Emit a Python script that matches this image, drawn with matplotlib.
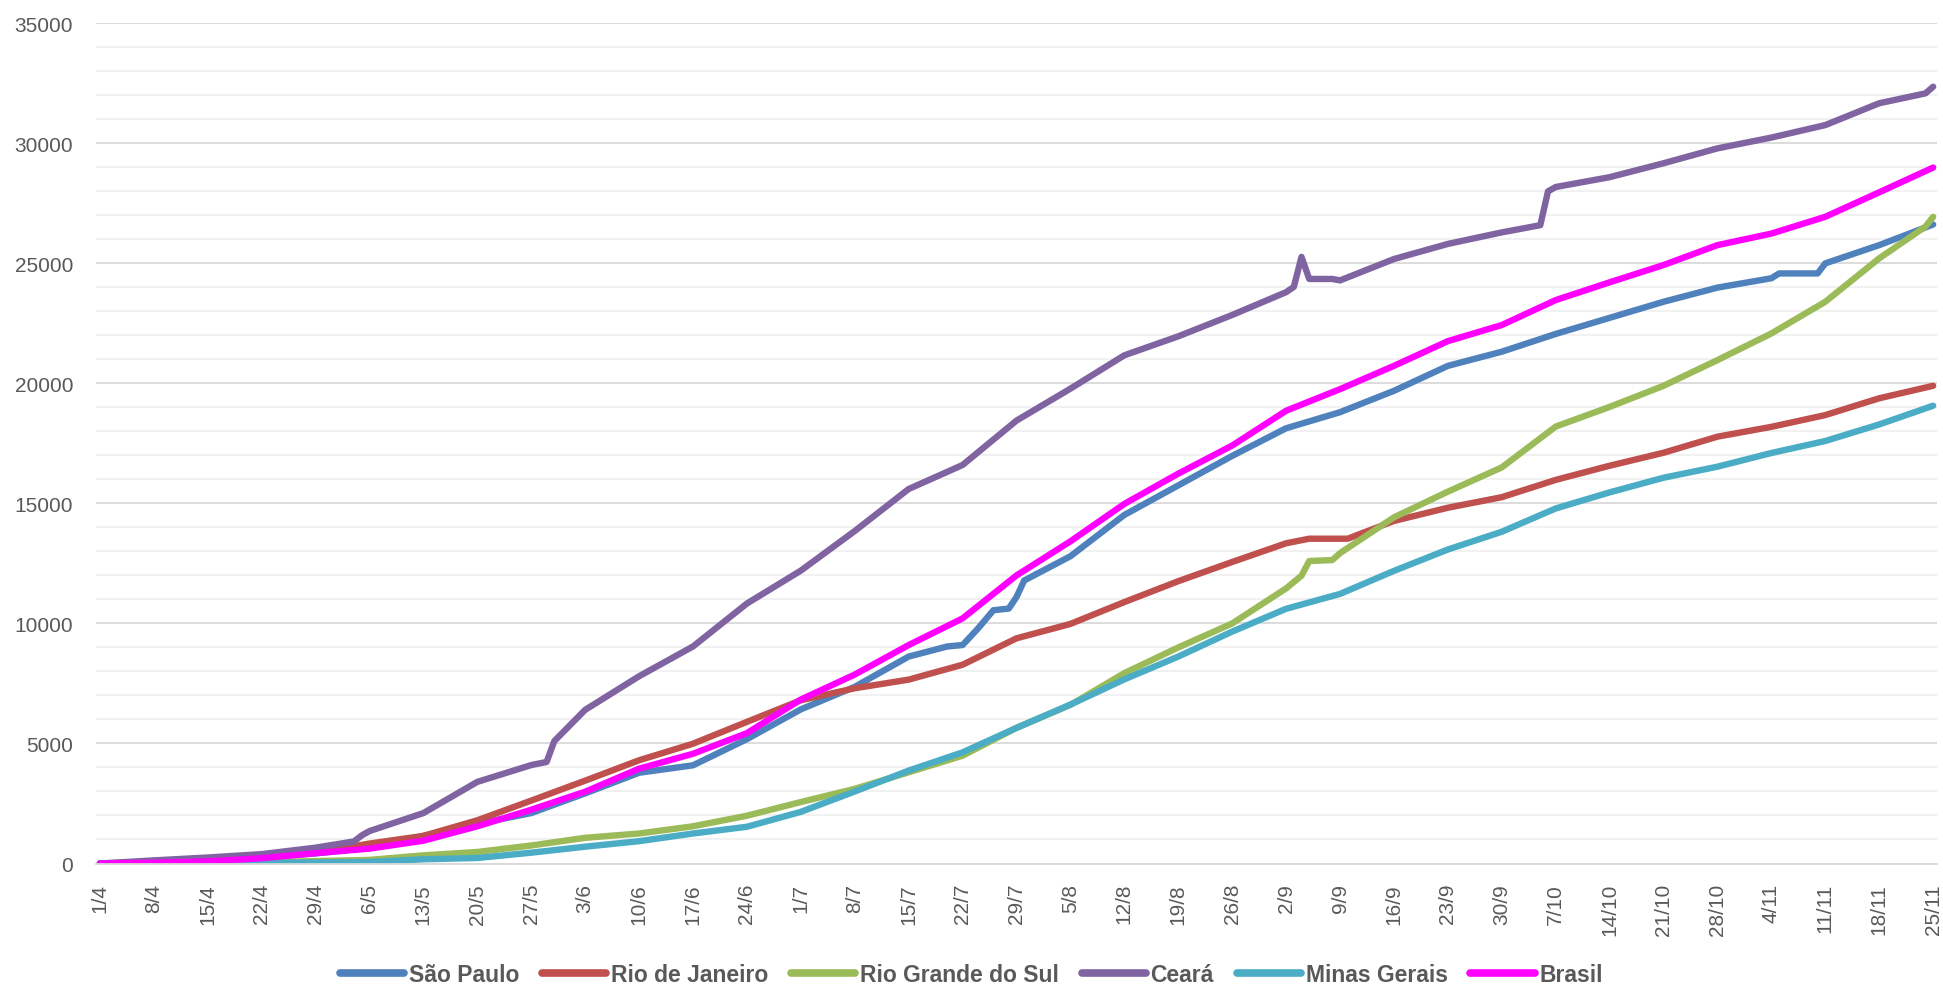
import matplotlib
matplotlib.use('Agg')
import matplotlib.pyplot as plt
from matplotlib.ticker import MultipleLocator

# Cumulative values per state, read weekly (day 0 = 1/4) plus a few extra points at jumps
WEEK_DAYS = [0, 7, 14, 21, 28, 35, 42, 49, 56, 63, 70, 77, 84, 91, 98, 105, 112,
             119, 126, 133, 140, 147, 154, 161, 168, 175, 182, 189, 196, 203,
             210, 217, 224, 231, 238]

TICK_LABELS = ['1/4', '8/4', '15/4', '22/4', '29/4', '6/5', '13/5', '20/5', '27/5',
               '3/6', '10/6', '17/6', '24/6', '1/7', '8/7', '15/7', '22/7', '29/7',
               '5/8', '12/8', '19/8', '26/8', '2/9', '9/9', '16/9', '23/9', '30/9',
               '7/10', '14/10', '21/10', '28/10', '4/11', '11/11', '18/11', '25/11']

sao_paulo = [0, 50, 120, 250, 420, 650, 1150, 1650, 2100, 2920, 3780, 4090, 5180,
             6420, 7360, 8620, 9100, 11100, 12800, 14520, 15750, 16980, 18130,
             18800, 19690, 20730, 21320, 22060, 22730, 23400, 23990, 24380, 25000,
             25760, 26620]
rio_janeiro = [0, 60, 120, 250, 450, 830, 1150, 1800, 2620, 3450, 4300, 4990, 5900,
               6800, 7300, 7660, 8280, 9380, 9980, 10890, 11760, 12560, 13340,
               13530, 14270, 14820, 15260, 15980, 16570, 17110, 17780, 18190, 18680,
               19380, 19900]
rio_grande_sul = [0, 10, 30, 50, 100, 150, 340, 480, 750, 1070, 1250, 1550, 1990,
                  2560, 3110, 3800, 4490, 5650, 6610, 7930, 9000, 10000, 11460,
                  12930, 14420, 15490, 16500, 18200, 19020, 19900, 20970, 22080,
                  23400, 25210, 26940]
ceara = [0, 130, 250, 390, 660, 1350, 2100, 3400, 4100, 6400, 7800, 9040, 10830,
         12200, 13850, 15600, 16600, 18450, 19780, 21170, 21960, 22850, 23800,
         24290, 25180, 25810, 26290, 28180, 28590, 29170, 29790, 30240, 30760,
         31670, 32360]
minas_gerais = [0, 10, 20, 30, 40, 60, 175, 230, 450, 700, 930, 1250, 1530, 2150,
                3000, 3870, 4630, 5650, 6620, 7670, 8620, 9660, 10610, 11230, 12190,
                13080, 13820, 14790, 15460, 16070, 16530, 17100, 17600, 18290, 19070]
brasil = [0, 30, 90, 220, 430, 620, 950, 1550, 2240, 2990, 3950, 4570, 5430, 6830,
          7870, 9100, 10210, 12000, 13420, 14980, 16240, 17410, 18860, 19760, 20730,
          21760, 22430, 23470, 24210, 24930, 25760, 26240, 26940, 27960, 28990]

# extra (day, value) readings where a series jumps or stalls
sp_extra = [(110, 9040), (114, 9790), (116, 10550), (118, 10620), (120, 11790),
            (218, 24580), (223, 24580)]
rj_extra = [(157, 13530), (162, 13530)]
rs_extra = [(156, 11990), (157, 12600), (160, 12640), (237, 26530)]
ce_extra = [(33, 920), (34, 1170), (58, 4230), (59, 5100), (155, 24020),
            (156, 25270), (157, 24350), (160, 24350), (187, 26590), (188, 28000),
            (237, 32080)]

SERIES = [
    ('São Paulo', sao_paulo, sp_extra, '#4F81BD'),
    ('Rio de Janeiro', rio_janeiro, rj_extra, '#C0504D'),
    ('Rio Grande do Sul', rio_grande_sul, rs_extra, '#9BBB59'),
    ('Ceará', ceara, ce_extra, '#8064A2'),
    ('Minas Gerais', minas_gerais, [], '#4BACC6'),
    ('Brasil', brasil, [], '#FF00FF'),
]

plt.rcParams['font.family'] = ['Liberation Sans', 'DejaVu Sans']

fig = plt.figure(figsize=(19.43, 9.87), dpi=100)
ax = fig.add_axes([96 / 1943, 1 - 864.5 / 987, (1937 - 96) / 1943, (864.5 - 24.3) / 987])

for name, values, extra, color in SERIES:
    pts = sorted(list(zip(WEEK_DAYS, values)) + extra)
    xs = [p[0] for p in pts]
    ys = [p[1] for p in pts]
    ax.plot(xs, ys, color=color, lw=4.6, label=name, solid_joinstyle='round',
            solid_capstyle='round')

ax.set_xlim(-0.5, 238.5)
ax.set_ylim(0, 35000)
ax.set_xticks(WEEK_DAYS)
ax.set_xticklabels(TICK_LABELS, rotation=90)
ax.yaxis.set_major_locator(MultipleLocator(5000))
ax.yaxis.set_minor_locator(MultipleLocator(1000))
ax.grid(True, which='major', axis='y', color='#D9D9D9', lw=1.3)
ax.grid(True, which='minor', axis='y', color='#F0F0F0', lw=1.3)
ax.set_axisbelow(True)
for side in ['top', 'right', 'left']:
    ax.spines[side].set_visible(False)
ax.spines['bottom'].set_color('#D9D9D9')
ax.spines['bottom'].set_linewidth(1.3)
ax.tick_params(axis='both', which='both', length=0, labelsize=15, colors='#595959')
ax.tick_params(axis='x', pad=14)
ax.tick_params(axis='y', pad=16.5)

leg = fig.legend(loc='center', bbox_to_anchor=(0.5, 0.012), ncol=6, frameon=False,
                 fontsize=16.5, handlelength=2.8, columnspacing=1.0, handletextpad=0.2)
for t in leg.get_texts():
    t.set_color('#595959')
    t.set_fontweight('bold')
for h in leg.legend_handles:
    h.set_linewidth(5.5)

fig.savefig('out.png', dpi=100)
